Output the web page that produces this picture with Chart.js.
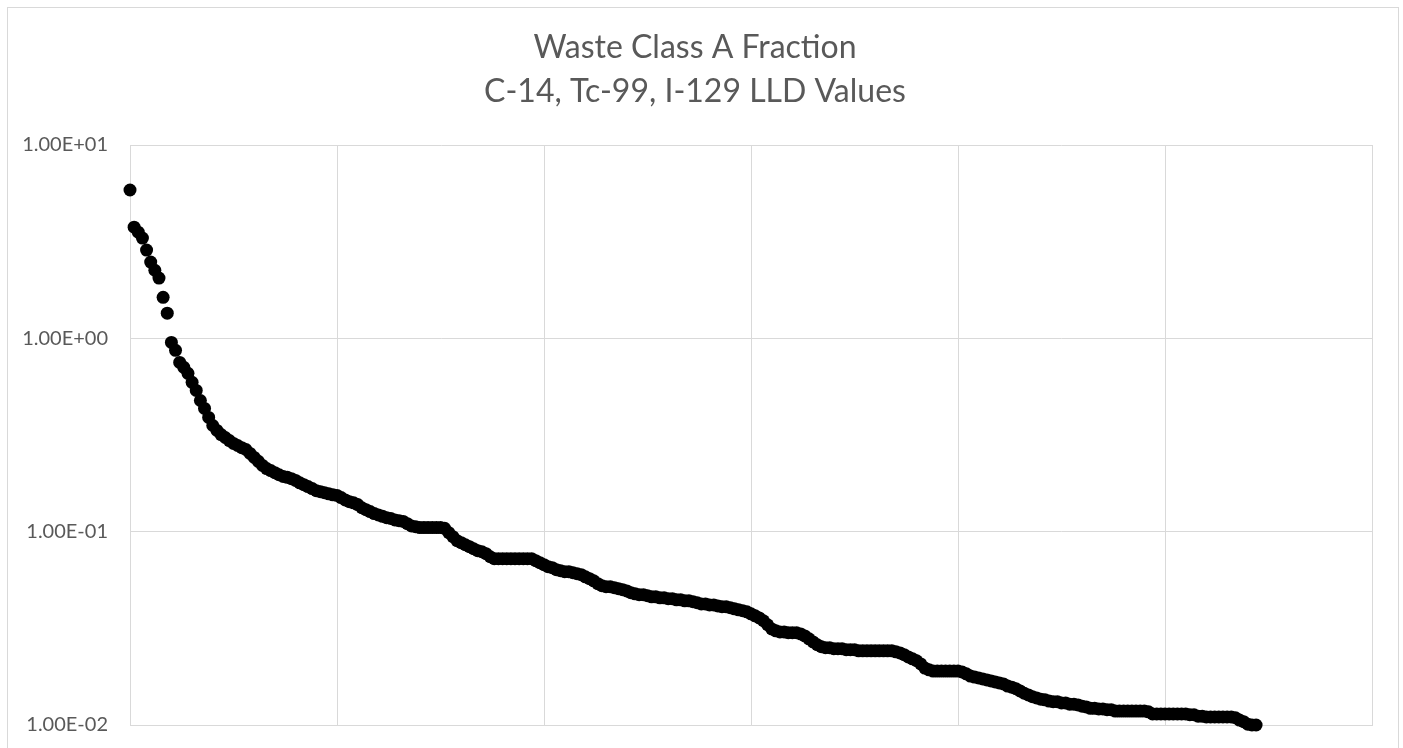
<!DOCTYPE html>
<html>
<head>
<meta charset="utf-8">
<script src="https://cdn.jsdelivr.net/npm/chart.js@4.4.1/dist/chart.umd.min.js"></script>
<style>
	html, body { margin: 0; padding: 0; background: #fff; overflow: hidden; }
	#wrap { position: relative; width: 1403px; height: 748px; }
	#frame { position: absolute; left: 7px; top: 7px; width: 1390px; height: 760px; border: 1px solid #d9d9d9; pointer-events: none; }
</style>
</head>
<body>
<div id="wrap">
	<canvas id="lld-chart" width="1403" height="748"></canvas>
	<div id="frame"></div>
</div>
<script>

var titleLines = ["Waste Class A Fraction", "C-14, Tc-99, I-129 LLD Values"];
var yTickValues = [0.01, 0.1, 1, 10];
var xGridStep = 50;
var xMax = 300;

// sorted fraction values, one per sample (x = rank)
var fractions = [
	5.85, 3.76, 3.54, 3.30, 2.86, 2.48, 2.25, 2.05, 1.63, 1.35,
	0.953, 0.867, 0.751, 0.708, 0.659, 0.592, 0.538, 0.477, 0.434, 0.390,
	0.354, 0.334, 0.318, 0.307, 0.296, 0.286, 0.279, 0.272, 0.266, 0.254,
	0.242, 0.231, 0.220, 0.212, 0.207, 0.202, 0.197, 0.193, 0.191, 0.188,
	0.184, 0.179, 0.175, 0.171, 0.167, 0.163, 0.161, 0.159, 0.157, 0.155,
	0.154, 0.150, 0.146, 0.143, 0.141, 0.138, 0.133, 0.130, 0.127, 0.124,
	0.122, 0.120, 0.118, 0.117, 0.115, 0.114, 0.113, 0.110, 0.107, 0.106,
	0.105, 0.105, 0.105, 0.105, 0.105, 0.105, 0.104, 0.0988, 0.0942, 0.0898,
	0.0877, 0.0856, 0.0836, 0.0816, 0.0797, 0.0787, 0.0769, 0.0742, 0.0725, 0.0725,
	0.0725, 0.0725, 0.0725, 0.0725, 0.0725, 0.0725, 0.0725, 0.0725, 0.0708, 0.0691,
	0.0675, 0.0659, 0.0651, 0.0636, 0.0628, 0.0621, 0.0621, 0.0613, 0.0606, 0.0599,
	0.0584, 0.0571, 0.0557, 0.0538, 0.0525, 0.0519, 0.0519, 0.0513, 0.0507, 0.0501,
	0.0494, 0.0483, 0.0477, 0.0472, 0.0472, 0.0466, 0.0460, 0.0460, 0.0455, 0.0455,
	0.0450, 0.0450, 0.0444, 0.0444, 0.0439, 0.0439, 0.0434, 0.0429, 0.0423, 0.0423,
	0.0418, 0.0418, 0.0413, 0.0409, 0.0409, 0.0404, 0.0399, 0.0394, 0.0390, 0.0385,
	0.0376, 0.0367, 0.0358, 0.0346, 0.0330, 0.0314, 0.0307, 0.0303, 0.0303, 0.0300,
	0.0300, 0.0300, 0.0296, 0.0289, 0.0279, 0.0269, 0.0260, 0.0254, 0.0251, 0.0251,
	0.0248, 0.0248, 0.0248, 0.0245, 0.0245, 0.0245, 0.0242, 0.0242, 0.0242, 0.0242,
	0.0242, 0.0242, 0.0242, 0.0242, 0.0242, 0.0239, 0.0236, 0.0231, 0.0225, 0.0220,
	0.0215, 0.0207, 0.0197, 0.0193, 0.0190, 0.0190, 0.0190, 0.0190, 0.0190, 0.0190,
	0.0190, 0.0188, 0.0184, 0.0179, 0.0177, 0.0175, 0.0173, 0.0171, 0.0169, 0.0167,
	0.0165, 0.0163, 0.0159, 0.0157, 0.0154, 0.0150, 0.0146, 0.0143, 0.0140, 0.0138,
	0.0136, 0.0135, 0.0133, 0.0132, 0.0132, 0.0130, 0.0130, 0.0128, 0.0128, 0.0127,
	0.0125, 0.0124, 0.0122, 0.0122, 0.0121, 0.0121, 0.0120, 0.0120, 0.0118, 0.0118,
	0.0118, 0.0118, 0.0118, 0.0118, 0.0118, 0.0118, 0.0117, 0.0114, 0.0114, 0.0114,
	0.0114, 0.0114, 0.0114, 0.0114, 0.0114, 0.0114, 0.0113, 0.0113, 0.0111, 0.0111,
	0.0110, 0.0110, 0.0110, 0.0110, 0.0110, 0.0110, 0.0110, 0.0109, 0.0106, 0.0104,
	0.0101, 0.0100, 0.0100
];

var gridColor = "#d9d9d9";
var textColor = "#595959";
var fontFamily = "Lato, 'Open Sans', sans-serif";

// excel style label: 1.00E-02
function sciLabel(v){
	var e = Math.round(Math.log10(v));
	var m = v / Math.pow(10, e);
	var exp = String(Math.abs(e));
	if (exp.length < 2) exp = "0" + exp;
	return m.toFixed(2) + "E" + (e < 0 ? "-" : "+") + exp;
}

function buildPoints(){
	var pts = [];
	for (var i = 0; i < fractions.length; i++) {
		pts.push({ x: i, y: fractions[i] });
	}
	return pts;
}

var ctx = document.getElementById("lld-chart").getContext("2d");

var lldChart = new Chart(ctx, {
	type: 'scatter',
	data: {
		datasets: [{
			label: "LLD fraction",
			data: buildPoints(),
			backgroundColor: "#000",
			borderColor: "#000",
			borderWidth: 0,
			pointRadius: 6.5,
			showLine: false,
			clip: false
		}]
	},
	options: {
		responsive: false,
		animation: false,
		events: [],
		layout: {
			padding: { left: 18, right: 31, top: 0, bottom: 23 }
		},
		plugins: {
			legend: { display: false },
			tooltip: { enabled: false },
			title: {
				display: true,
				text: titleLines,
				color: textColor,
				font: { family: fontFamily, size: 32, weight: 'normal', lineHeight: 1.375 },
				padding: { top: 26, bottom: 31 }
			}
		},
		scales: {
			x: {
				type: 'linear',
				min: 0,
				max: xMax,
				ticks: { display: false, stepSize: xGridStep },
				grid: { color: gridColor, lineWidth: 1, drawTicks: false },
				border: { color: gridColor }
			},
			y: {
				type: 'logarithmic',
				min: yTickValues[0],
				max: yTickValues[yTickValues.length - 1],
				afterBuildTicks: function(scale){
					scale.ticks = yTickValues.map(function(v){ return { value: v }; });
				},
				afterFit: function(scale){
					scale.width = 112;
					// labels may overhang, the layout padding leaves room
					scale.paddingTop = 0;
					scale.paddingBottom = 0;
				},
				ticks: {
					color: textColor,
					font: { family: fontFamily, size: 20 },
					padding: 22,
					callback: function(value){ return sciLabel(value); }
				},
				grid: { color: gridColor, lineWidth: 1, drawTicks: false },
				border: { color: gridColor }
			}
		}
	}
});

</script>
</body>
</html>
